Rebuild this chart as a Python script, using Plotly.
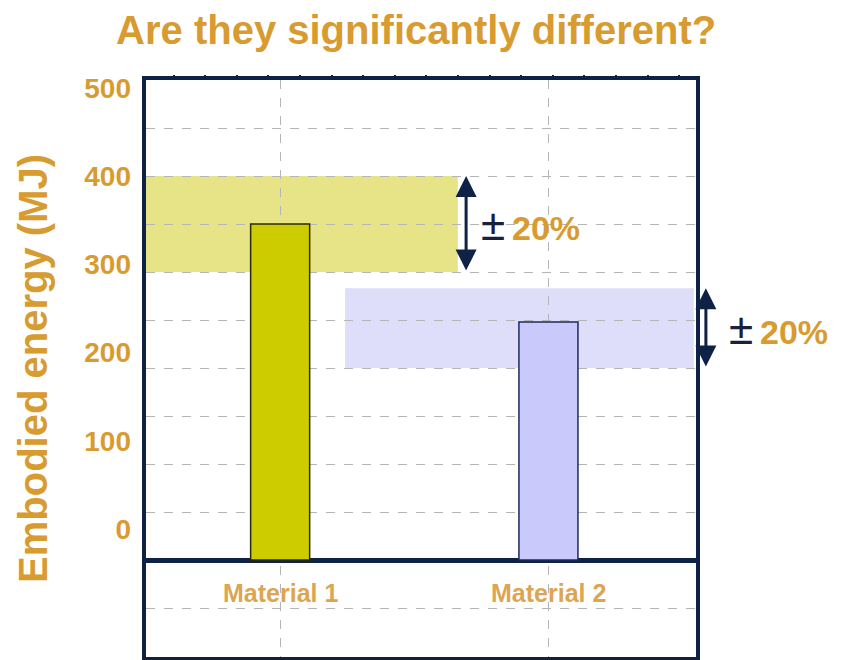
import plotly.graph_objects as go

# data
materiales = ["Material 1", "Material 2"]
energia = [350, 248]          # MJ, top of each bar
banda_inf = [300, 200]        # lower edge of the +/-20% band
banda_sup = [400, 283]        # upper edge of the +/-20% band
etiquetas_y = [0, 100, 200, 300, 400, 500]
pct = 20

naranja = "#d89b30"
marino = "#0d2244"
fuente = "Arial, Liberation Sans, sans-serif"

fig = go.Figure()

fig.add_trace(go.Bar(
    x=materiales, y=energia, width=0.22,
    marker=dict(color=["#cccc00", "#c9c9fb"],
                line=dict(color=["#2a2a10", "#1c2a5c"], width=1.5)),
    showlegend=False, hoverinfo="skip",
))
# empty traces so the extra axes get drawn
fig.add_trace(go.Scatter(x=[], y=[], yaxis="y2", showlegend=False))
fig.add_trace(go.Scatter(x=[], y=[], xaxis="x2", showlegend=False))

# bands +/-20%
bandas = [
    dict(x0=0.0, x1=0.567, color="rgba(214,212,60,0.62)"),
    dict(x0=0.362, x1=0.996, color="rgba(190,190,246,0.5)"),
]
for i, b in enumerate(bandas):
    fig.add_shape(type="rect", xref="paper", yref="y",
                  x0=b["x0"], x1=b["x1"], y0=banda_inf[i], y1=banda_sup[i],
                  fillcolor=b["color"], line_width=0, layer="between")

# white strip behind the category labels
fig.add_shape(type="rect", xref="paper", yref="y", x0=0.098, x1=0.871, y0=-3, y1=-58,
              fillcolor="white", line_width=0, layer="between")

# double arrows and +/- labels
flechas_x = [0.582, 1.018]
textos_x = [0.606, 1.056]
for i in range(2):
    fig.add_annotation(x=flechas_x[i], xref="paper", y=banda_sup[i], yref="y",
                       ax=0, axref="pixel", ay=banda_inf[i], ayref="y",
                       showarrow=True, text="", arrowhead=2, startarrowhead=2,
                       arrowside="end+start", arrowsize=1.4, arrowwidth=3,
                       arrowcolor=marino, startarrowsize=1.4)
    fig.add_annotation(x=textos_x[i], xref="paper",
                       y=(banda_inf[i] + banda_sup[i]) / 2, yref="y",
                       xanchor="left", yanchor="middle", showarrow=False,
                       text=f'<span style="color:#1a2040;font-size:44px">±</span>\u2009<b>{pct}%</b>',
                       font=dict(family=fuente, size=34, color=naranja))

# category labels below the axis line
for m in materiales:
    fig.add_annotation(x=m, y=-34, xref="x", yref="y", showarrow=False,
                       text=f"<b>{m}</b>",
                       font=dict(family=fuente, size=25, color="#dca552"))

fig.update_layout(
    width=851, height=660,
    margin=dict(l=146, r=155, t=80, b=3, autoexpand=False),
    paper_bgcolor="white", plot_bgcolor="white",
    title=dict(text="<b>Are they significantly different?</b>", xref="container",
               x=0.489, xanchor="center", y=0.955, yanchor="middle", automargin=False,
               font=dict(family=fuente, size=40, color=naranja)),
    xaxis=dict(range=[-0.5, 1.55], showticklabels=False, ticks="", automargin=False,
               showgrid=True, griddash="dash", gridcolor="#b5b5b5", gridwidth=1,
               showline=True, linecolor=marino, linewidth=4, mirror=True),
    xaxis2=dict(overlaying="x", side="top", anchor="y", range=[0, 550], automargin=False,
                tick0=27.5, dtick=31.6, ticks="outside", ticklen=4, tickwidth=2,
                tickcolor=marino, showticklabels=False, showgrid=False, zeroline=False),
    yaxis=dict(range=[-101, 500], dtick=50, showticklabels=False, ticks="", automargin=False,
               showgrid=True, griddash="dash", gridcolor="#b5b5b5", gridwidth=1,
               zeroline=True, zerolinecolor=marino, zerolinewidth=5,
               showline=True, linecolor=marino, linewidth=4, mirror=True),
    yaxis2=dict(overlaying="y", side="left", anchor="x", range=[-145, 509],
                tickvals=etiquetas_y, ticks="", showgrid=False, zeroline=False,
                showline=False, ticklabelstandoff=14, automargin=False,
                tickfont=dict(family=fuente, size=28, color=naranja, weight="bold"),
                title=dict(text="<b>Embodied energy (MJ)</b>", standoff=24,
                           font=dict(family=fuente, size=40, color=naranja))),
)

# the page keeps the browser's default 8px body margin otherwise
fig.write_html("out.html", config={"displayModeBar": False},
               post_script="document.body.style.margin='0';")
